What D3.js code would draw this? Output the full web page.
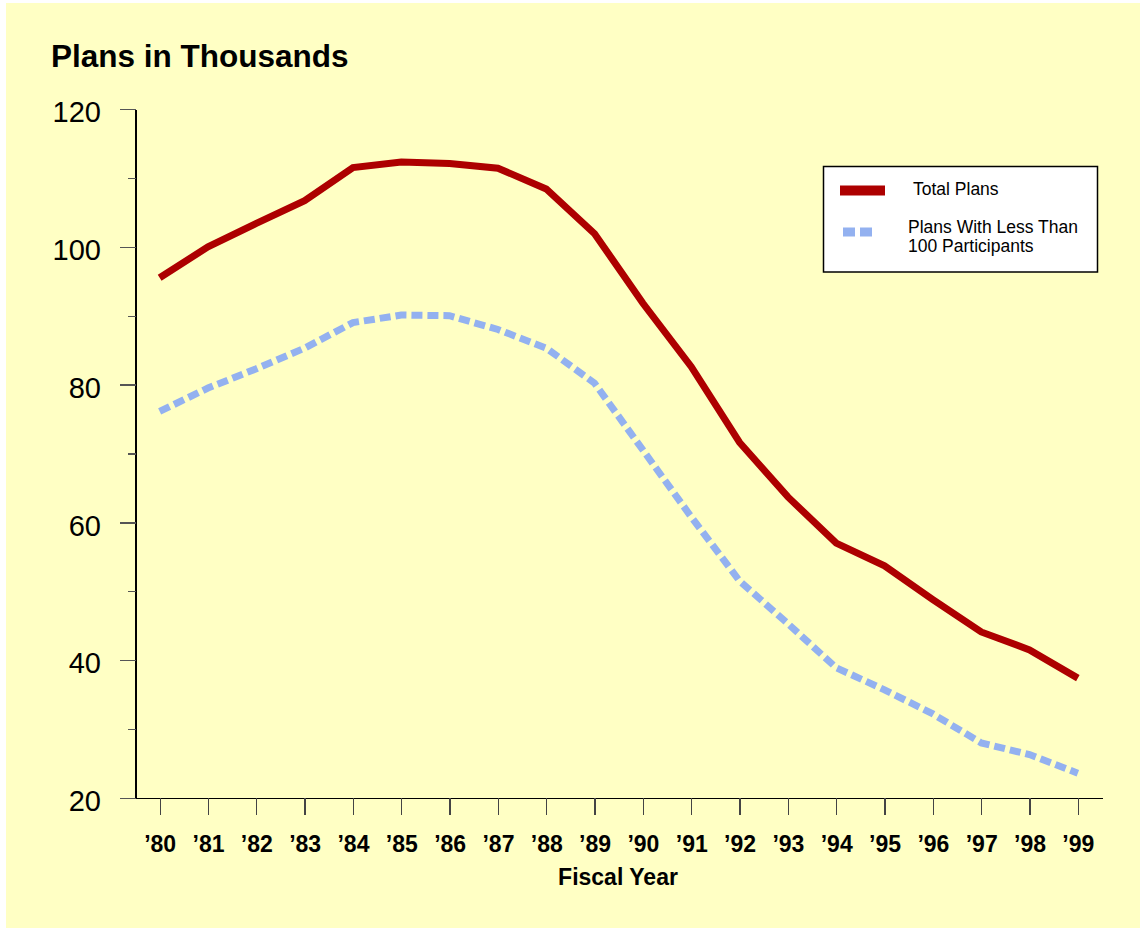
<!DOCTYPE html>
<html>
<head>
<meta charset="utf-8">
<script src="https://cdn.jsdelivr.net/npm/d3@7"></script>
<style>
  html, body { margin: 0; padding: 0; background: #ffffff; }
  svg { display: block; font-family: "Liberation Sans", Arial, sans-serif; }
  .axis path, .axis line { shape-rendering: crispEdges; }
</style>
</head>
<body>
<div id="chart"></div>
<script>
// Plans in thousands, fiscal years 1980-1999

const years = ["’80", "’81", "’82", "’83", "’84", "’85", "’86", "’87", "’88", "’89",
               "’90", "’91", "’92", "’93", "’94", "’95", "’96", "’97", "’98", "’99"];

const totalPlans = [95.5, 100.0, 103.4, 106.7, 111.5, 112.3, 112.1, 111.4, 108.4, 101.9,
                    91.8, 82.6, 71.6, 63.7, 57.0, 53.7, 48.8, 44.1, 41.5, 37.4];

const smallPlans = [76.1, 79.5, 82.3, 85.3, 89.0, 90.1, 90.0, 88.0, 85.3, 80.2,
                    70.5, 60.8, 51.5, 45.3, 38.9, 35.7, 32.2, 28.0, 26.3, 23.6];

const yMajorTicks = [20, 40, 60, 80, 100, 120];
const yMinorTicks = [30, 50, 70, 90, 110];

const seriesNames = ["Total Plans", ["Plans With Less Than", "100 Participants"]];

const WIDTH = 1143;
const HEIGHT = 932;

const RED = "#ad0000";
const BLUE = "#93b1f0";
const BG = "#ffffc4";

const plot = { left: 135.5, right: 1102, top: 109, bottom: 798 };

const svg = d3
  .select("#chart")
  .append("svg")
  .attr("width", WIDTH)
  .attr("height", HEIGHT);

// yellow panel
svg.append("rect")
  .attr("x", 6)
  .attr("y", 3)
  .attr("width", 1134)
  .attr("height", 925)
  .attr("fill", BG);

const xScale = d3
  .scalePoint()
  .domain(years)
  .range([plot.left, plot.right])
  .padding(0.5);

const yScale = d3
  .scaleLinear()
  .domain([20, 120])
  .range([plot.bottom, plot.top]);

// ---- Axes ----
const yAxis = d3.axisLeft(yScale)
  .tickValues(yMajorTicks)
  .tickSize(16)
  .tickSizeOuter(0)
  .tickPadding(18.5);

const yg = svg.append("g")
  .attr("class", "axis")
  .attr("transform", `translate(${plot.left},0)`)
  .call(yAxis);

yg.select(".domain").attr("stroke", "#000").attr("stroke-width", 1.3);
yg.selectAll(".tick line").attr("stroke", "#555").attr("stroke-width", 1.3);
yg.selectAll(".tick text")
  .attr("dy", "0.44em")
  .attr("fill", "#000")
  .style("font-size", "29px");

// minor ticks
svg.append("g")
  .attr("class", "axis")
  .attr("transform", `translate(${plot.left},0)`)
  .call(d3.axisLeft(yScale).tickValues(yMinorTicks).tickSize(8).tickFormat(""))
  .call((g) => g.select(".domain").remove())
  .selectAll(".tick line").attr("stroke", "#555").attr("stroke-width", 1.3);

const xAxis = d3.axisBottom(xScale)
  .tickSize(17)
  .tickSizeOuter(0)
  .tickPadding(21);

const xg = svg.append("g")
  .attr("class", "axis")
  .attr("transform", `translate(0,${plot.bottom})`)
  .call(xAxis);

xg.select(".domain").attr("stroke", "#000").attr("stroke-width", 1.3);
xg.selectAll(".tick line").attr("stroke", "#444").attr("stroke-width", 1.3);
xg.selectAll(".tick text")
  .attr("fill", "#000")
  .style("font-size", "23px")
  .style("font-weight", "bold");

// ---- Titles ----
svg.append("text")
  .attr("x", 51)
  .attr("y", 67)
  .style("font-size", "31.5px")
  .style("font-weight", "bold")
  .text("Plans in Thousands");

svg.append("text")
  .attr("x", 618)
  .attr("y", 885)
  .attr("text-anchor", "middle")
  .style("font-size", "23px")
  .style("font-weight", "bold")
  .text("Fiscal Year");

// ---- Lines ----
const line = d3.line()
  .x((d, i) => xScale(years[i]))
  .y((d) => yScale(d));

svg.append("path")
  .datum(smallPlans)
  .attr("d", line)
  .attr("fill", "none")
  .attr("stroke", BLUE)
  .attr("stroke-width", 7)
  .attr("stroke-dasharray", "11,5");

svg.append("path")
  .datum(totalPlans)
  .attr("d", line)
  .attr("fill", "none")
  .attr("stroke", RED)
  .attr("stroke-width", 7)
  .attr("stroke-linejoin", "miter");

// ---- Legend ----
const legend = svg.append("g");

legend.append("rect")
  .attr("x", 823.5)
  .attr("y", 166.5)
  .attr("width", 274)
  .attr("height", 105.5)
  .attr("fill", "#fff")
  .attr("stroke", "#000")
  .attr("stroke-width", 1.5);

legend.append("line")
  .attr("x1", 840).attr("x2", 885)
  .attr("y1", 190.5).attr("y2", 190.5)
  .attr("stroke", RED)
  .attr("stroke-width", 10);

legend.append("line")
  .attr("x1", 843).attr("x2", 873)
  .attr("y1", 232).attr("y2", 232)
  .attr("stroke", BLUE)
  .attr("stroke-width", 9)
  .attr("stroke-dasharray", "12,5");

legend.append("text")
  .attr("x", 913)
  .attr("y", 195)
  .style("font-size", "17.5px")
  .text(seriesNames[0]);

legend.append("text")
  .attr("x", 908)
  .attr("y", 233)
  .style("font-size", "17.5px")
  .selectAll("tspan")
  .data(seriesNames[1])
  .join("tspan")
  .attr("x", 908)
  .attr("dy", (d, i) => (i === 0 ? 0 : 18.5))
  .text((d) => d);
</script>
</body>
</html>
